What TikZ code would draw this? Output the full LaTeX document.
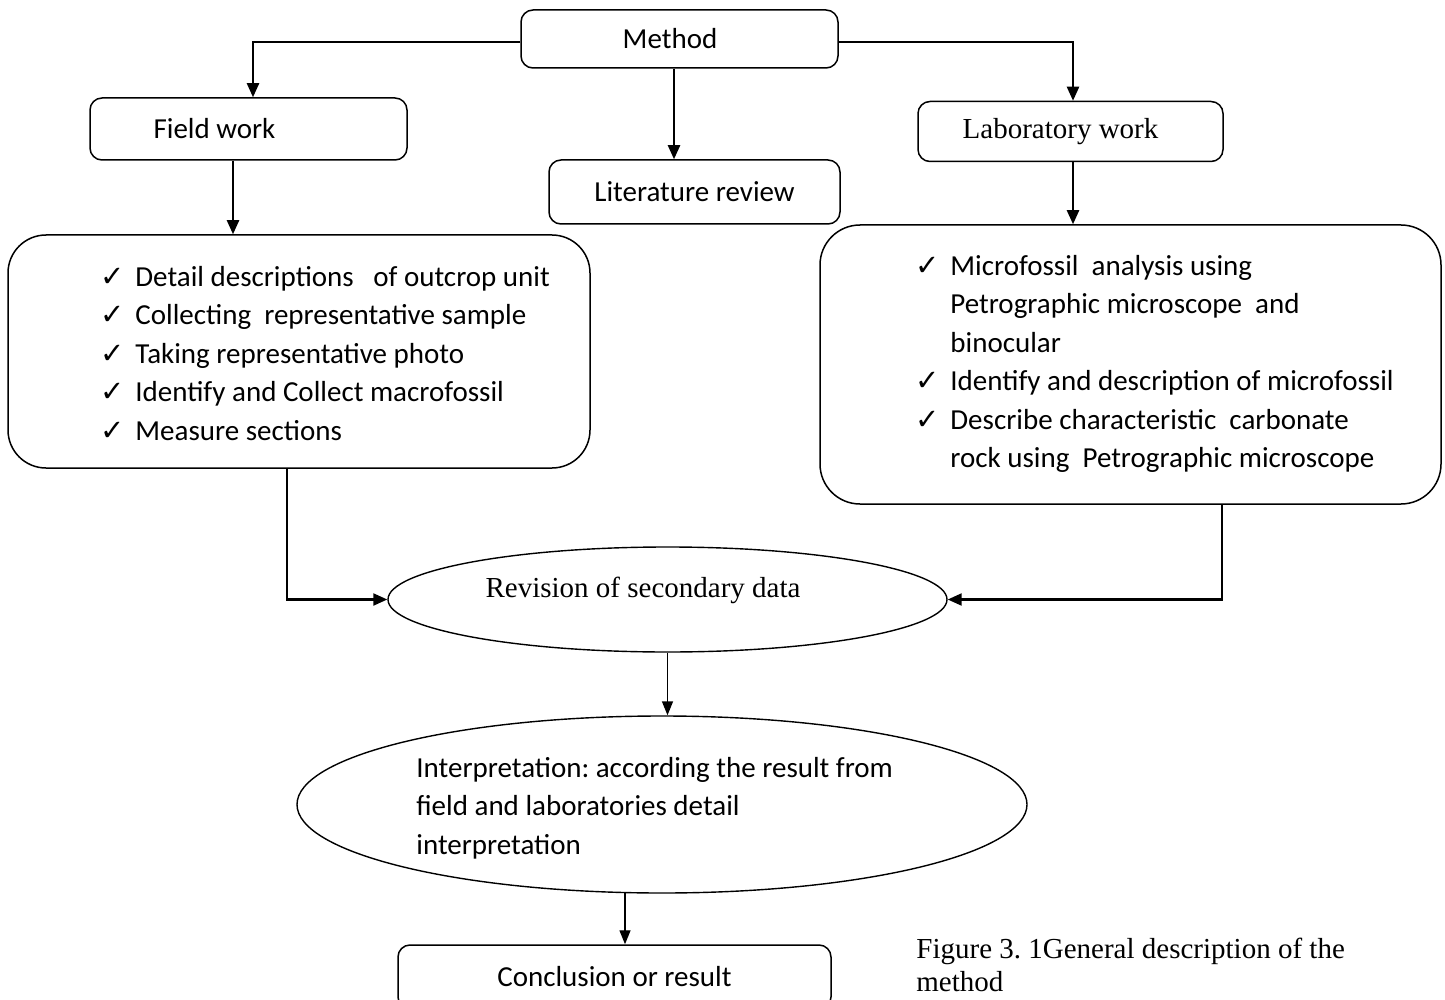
\documentclass[tikz,border=0pt]{standalone}
\usepackage{fontspec}
\setmainfont{Carlito}
\newfontfamily\timesfont{Liberation Serif}
\newfontfamily\symfont{DejaVu Sans}
\usetikzlibrary{arrows.meta,shapes.geometric}
\newcommand\ckmark{\makebox[17.5pt][l]{\symfont ✓}}
\newcommand\ckgap{\hspace*{17.5pt}}
\frenchspacing
\begin{document}
\begin{tikzpicture}[x=0.5pt,y=-0.5pt,
  box/.style={draw, line width=0.75pt, rounded corners=6pt, inner sep=0pt,
              font=\fontsize{14.5}{17}\selectfont},
  bigbox/.style={draw, line width=0.75pt, rounded corners=19pt, inner sep=0pt},
  oval/.style={draw, ellipse, line width=0.7pt, inner sep=0pt},
  conn/.style={line width=1.1pt, -{Triangle[length=7pt,width=6pt]}},
  lconn/.style={line width=0.7pt, -{Triangle[length=7pt,width=5.5pt]}},
  txt/.style={inner sep=0pt, align=left, font=\fontsize{14.5}{19.25}\selectfont},
  serif/.style={inner sep=0pt, align=left, font=\timesfont\fontsize{14.5}{17}\selectfont}
]
\useasboundingbox (0,0) rectangle (1445,1000);

% boxes
\node[box, minimum width=158.5pt, minimum height=29pt] (method) at (679.5,39) {Method\hspace*{9.5pt}};
\node[box, minimum width=158.5pt, minimum height=31pt] (field) at (248.5,129) {Field work\hspace*{34pt}};
\node[box, minimum width=145.5pt, minimum height=32pt] (lit) at (694.5,192) {Literature review};
\node[box, minimum width=152.5pt, minimum height=30pt, font=\timesfont\fontsize{14.5}{17}\selectfont] (lab) at (1070.5,131.5) {Laboratory work\hspace*{10pt}};

\node[bigbox, minimum width=291pt, minimum height=116.5pt] (fbox) at (299,351.5) {};
\node[bigbox, minimum width=310.5pt, minimum height=139.5pt, rounded corners=20pt] (lbox) at (1130.5,364.5) {};

\node[txt, anchor=west] (flist) at (100,353.5) {%
\ckmark Detail descriptions\ \ \ of outcrop unit\\
\ckmark Collecting\ \ representative sample\\
\ckmark Taking representative photo\\
\ckmark Identify and Collect macrofossil\\
\ckmark Measure sections};

\node[txt, anchor=west] (llist) at (915,364) {%
\ckmark Microfossil\ \ analysis using\\
\ckgap Petrographic microscope\ \ and\\
\ckgap binocular\\
\ckmark Identify and description of microfossil\\
\ckmark Describe characteristic\ \ carbonate\\
\ckgap rock using\ \ Petrographic microscope};

\node[oval, minimum width=279.5pt, minimum height=52.5pt] (rev) at (667.5,599.5) {};
\node[serif] (revtxt) at (643,590) {Revision of secondary data};

\node[oval, minimum width=365pt, minimum height=88.5pt] (interp) at (662,804.5) {};
\node[txt, anchor=west] (interptxt) at (416,808) {Interpretation: according the result from\\
field and laboratories detail\\
interpretation};

\node[box, minimum width=216.5pt, minimum height=32pt] (concl) at (614.5,977) {Conclusion or result};

\node[serif, anchor=west, font=\timesfont\fontsize{14.5}{16.5}\selectfont] (caption) at (916,965) {Figure 3. 1General description of the\\method};

% connectors
\draw[conn] ([yshift=-1.5pt]method.west) -| ([xshift=2.25pt]field.north);
\draw[conn] ([yshift=-1.5pt]method.east) -| ([xshift=1.25pt]lab.north);
\draw[conn] (method.south -| 674,0) -- (lit.north -| 674,0);
\draw[conn] (field.south -| 233,0) -- (fbox.north -| 233,0);
\draw[conn] (lab.south -| 1073,0) -- (lbox.north -| 1073,0);
\draw[conn] (fbox.south -| 287,0) |- (rev.west);
\draw[conn] (lbox.south -| 1222,0) |- (rev.east);
\draw[lconn] (rev.south) -- (rev.south |- interp.north);
\draw[lconn] (interp.south -| 625,0) ++(0,-1) -- (concl.north -| 625,0);
\end{tikzpicture}
\end{document}
